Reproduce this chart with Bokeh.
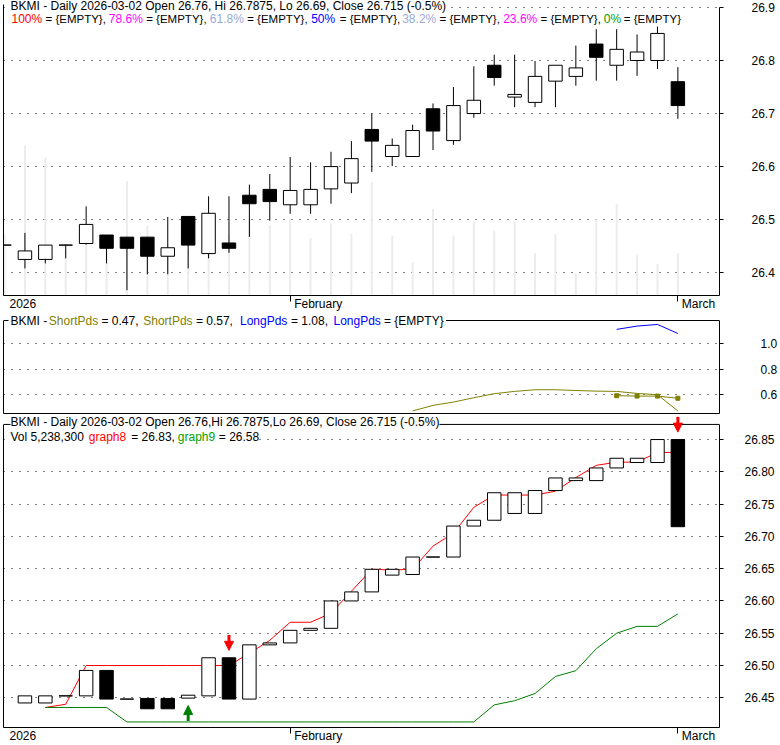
import math
from bokeh.plotting import figure
from bokeh.models import (Range1d, LinearAxis, FixedTicker, Label, ColumnDataSource, Span,
                          BoxAnnotation, Arrow, NormalHead, PrintfTickFormatter,
                          CustomJSTickFormatter)
from bokeh.layouts import column
from bokeh.embed import file_html
from bokeh.resources import INLINE

nan = float("nan")

# ---------------- data ----------------
dates = ["2026-01-12", "2026-01-13", "2026-01-14", "2026-01-15", "2026-01-16",
         "2026-01-20", "2026-01-21", "2026-01-22", "2026-01-23", "2026-01-26",
         "2026-01-27", "2026-01-28", "2026-01-29", "2026-01-30",
         "2026-02-02", "2026-02-03", "2026-02-04", "2026-02-05", "2026-02-06",
         "2026-02-09", "2026-02-10", "2026-02-11", "2026-02-12", "2026-02-13",
         "2026-02-17", "2026-02-18", "2026-02-19", "2026-02-20", "2026-02-23",
         "2026-02-24", "2026-02-25", "2026-02-26", "2026-02-27", "2026-03-02"]

open_ = [26.452, 26.425, 26.425, 26.452, 26.455, 26.471, 26.467, 26.467, 26.431, 26.506,
         26.436, 26.456, 26.546, 26.557, 26.528, 26.528, 26.558, 26.569, 26.670, 26.619,
         26.619, 26.709, 26.649, 26.700, 26.791, 26.731, 26.721, 26.761, 26.770, 26.831,
         26.791, 26.800, 26.800, 26.76]
high = [26.452, 26.475, 26.452, 26.453, 26.525, 26.471, 26.467, 26.467, 26.505, 26.506,
        26.544, 26.544, 26.566, 26.586, 26.618, 26.608, 26.628, 26.648, 26.700, 26.653,
        26.679, 26.719, 26.750, 26.789, 26.811, 26.811, 26.799, 26.791, 26.828, 26.859,
        26.859, 26.849, 26.864, 26.7875]
low = [26.452, 26.408, 26.4175, 26.427, 26.453, 26.4175, 26.367, 26.397, 26.397, 26.408,
       26.427, 26.4375, 26.4675, 26.498, 26.511, 26.511, 26.530, 26.550, 26.590, 26.601,
       26.619, 26.631, 26.641, 26.692, 26.7525, 26.712, 26.712, 26.712, 26.7525, 26.762,
       26.762, 26.771, 26.784, 26.69]
close = [26.452, 26.441, 26.452, 26.452, 26.491, 26.446, 26.446, 26.431, 26.447, 26.452,
         26.512, 26.446, 26.530, 26.534, 26.555, 26.557, 26.600, 26.615, 26.648, 26.640,
         26.668, 26.667, 26.715, 26.725, 26.768, 26.736, 26.770, 26.791, 26.786, 26.806,
         26.821, 26.816, 26.851, 26.715]
volume_m = [7.5, 18.5, 17.1, 5.6, 8.7, 6.2, 14.1, 8.6, 6.2, 5.6,
            6.9, 7.5, 9.4, 8.7, 9.4, 7.1, 8.9, 7.6, 14.0, 7.4,
            4.1, 10.7, 7.4, 9.1, 8.0, 9.1, 5.2, 7.6, 2.7, 9.4,
            11.3, 5.0, 3.9, 5.2383]

# lower panel bodies
p3_low = [nan, 26.442, 26.442, 26.453, 26.453, 26.448, 26.448, 26.433, 26.433, 26.4495,
          26.453, 26.448, 26.448, 26.532, 26.535, 26.5545, 26.5576, 26.600, 26.614, 26.640,
          26.641, 26.668, 26.668, 26.716, 26.725, 26.7355, 26.7355, 26.771, 26.7864, 26.7864,
          26.806, 26.8144, 26.8144, 26.715]
p3_high = [nan, 26.453, 26.453, 26.453, 26.4924, 26.4924, 26.448, 26.449, 26.449, 26.454,
           26.512, 26.512, 26.532, 26.535, 26.5545, 26.5576, 26.600, 26.614, 26.649, 26.649,
           26.668, 26.668, 26.716, 26.725, 26.7676, 26.7676, 26.771, 26.7905, 26.7905, 26.806,
           26.821, 26.821, 26.85, 26.85]
p3_up = [None, True, True, True, True, False, False, False, False, True,
         True, False, True, True, True, True, True, True, True, True,
         True, False, True, True, True, True, True, True, True, True,
         True, True, True, False]
graph8 = [nan, nan, 26.435, 26.440, 26.50, 26.50, 26.50, 26.50, 26.50, 26.50,
          26.50, 26.50, 26.519, 26.539, 26.567, 26.567, 26.581, 26.615, 26.649, 26.648,
          26.649, 26.685, 26.705, 26.745, 26.764, 26.764, 26.764, 26.770, 26.791, 26.810,
          26.815, 26.815, 26.830, 26.83]
graph9 = [nan, nan, 26.435, 26.435, 26.435, 26.435, 26.4126, 26.4126, 26.4126, 26.4126,
          26.4126, 26.4126, 26.4126, 26.4126, 26.4126, 26.4126, 26.4126, 26.4126, 26.4126, 26.4126,
          26.4126, 26.4126, 26.4126, 26.4126, 26.439, 26.4455, 26.4566, 26.483, 26.492, 26.526,
          26.550, 26.5606, 26.5606, 26.58]
sell_signals = [11, 33]
buy_signals = [9]

# middle panel
short_pds_a = [nan] * 20 + [0.470, 0.514, 0.540, 0.574, 0.606, 0.624, 0.637, 0.637, 0.631, 0.626,
                            0.624, 0.608, 0.598, 0.47]
short_pds_b = [nan] * 30 + [0.590, 0.587, 0.587, 0.57]
long_pds_a = [nan] * 30 + [1.112, 1.138, 1.151, 1.08]

price_ticks = [26.4, 26.5, 26.6, 26.7, 26.8, 26.9]
pds_ticks = [0.6, 0.8, 1.0]
p3_ticks = [26.45, 26.50, 26.55, 26.60, 26.65, 26.70, 26.75, 26.80, 26.85]
fib_levels = ["100%", "78.6%", "61.8%", "50%", "38.2%", "23.6%", "0%"]
month_names = {"01": "January", "02": "February", "03": "March"}

# ---------------- layout ----------------
FONT = "Liberation Sans"
FS = "12px"
W = 780
BL, BR = 3, 60
FRAME_W = W - BL - BR
X0, X1 = -0.05, 35.04
PPX = FRAME_W / (X1 - X0)
idx = list(range(len(dates)))
x_range = Range1d(X0, X1)
month_ticks = [i for i in range(1, len(dates)) if dates[i][5:7] != dates[i - 1][5:7]]

P1_EXT, P1_BOX, P1_BOT = 7, 291, 15
P2_EXT, P2_BOX, P2_BOT = 7, 93, 3
P3_EXT, P3_BOX, P3_BOT = 8, 306, 15
Y1 = (26.357, 26.9)
Y2 = (0.450, 1.182)
Y3 = (26.404, 26.8734)

ARIAL = {"0": 556, "1": 556, "2": 556, "3": 556, "4": 556, "5": 556, "6": 556, "7": 556,
         "8": 556, "9": 556, "F": 611, "J": 500, "M": 833, "a": 556, "b": 556, "c": 500,
         "e": 556, "h": 556, "n": 556, "r": 333, "u": 556, "y": 500}


def text_w(s):
    return sum(ARIAL.get(ch, 556) for ch in s) * 12 / 1000


def add_text(p, x, y, text, color="black", bg=None, size=FS):
    p.add_layout(Label(x=x, y=y, x_units="screen", y_units="screen", text=text,
                       text_color=color, text_font=FONT, text_font_size=size,
                       text_baseline="middle", text_align="left",
                       background_fill_color=bg))


def add_backdrop(p, left, right, yc, half=4):
    p.add_layout(BoxAnnotation(left=left, right=right, bottom=yc - half, top=yc + half,
                               left_units="screen", right_units="screen",
                               bottom_units="screen", top_units="screen",
                               fill_color="white", fill_alpha=1.0, line_color=None))


def make_panel(ext, box, bot, yr, ticks, fmt, standoff, top_line=True, x_ticks=True,
               left_extra=0):
    ppu = box / (yr[1] - yr[0])
    p = figure(width=W, height=ext + box + bot, x_range=x_range,
               y_range=Range1d(yr[0], yr[1] + ext / ppu), y_axis_location="right",
               x_axis_location="below", output_backend="svg", toolbar_location=None,
               tools="", min_border_left=BL, min_border_right=BR, min_border_top=0,
               min_border_bottom=bot)
    p.title = None
    p.background_fill_color = "white"
    p.border_fill_color = "white"
    p.outline_line_color = None
    p.xgrid.visible = False
    # right price axis (also the right border)
    ax = p.yaxis[0]
    t = FixedTicker(ticks=ticks)
    ax.ticker = t
    ax.bounds = (yr[0], yr[1])
    ax.formatter = PrintfTickFormatter(format=fmt)
    ax.major_tick_out = 4
    ax.major_tick_in = 0
    ax.minor_tick_out = 0
    ax.minor_tick_in = 0
    ax.major_label_standoff = standoff
    ax.major_label_text_font = FONT
    ax.major_label_text_font_size = FS
    ax.major_label_text_color = "black"
    ax.axis_line_color = "black"
    ax.major_tick_line_color = "black"
    p.ygrid.ticker = t
    p.ygrid.grid_line_color = "black"
    p.ygrid.grid_line_dash = "1 7"
    p.ygrid.grid_line_width = 1
    # left border
    p.add_layout(LinearAxis(ticker=FixedTicker(ticks=[]), bounds=(yr[0], yr[1] + left_extra / ppu),
                            major_tick_out=0, major_tick_in=0, minor_tick_out=0,
                            minor_tick_in=0, major_label_text_color=None,
                            axis_line_color="black"), "left")
    # bottom border with month ticks
    xa = p.xaxis[0]
    xa.ticker = FixedTicker(ticks=month_ticks if x_ticks else [])
    xa.major_label_text_color = None
    xa.major_label_standoff = 0
    xa.major_tick_out = 6
    xa.major_tick_in = 0
    xa.minor_tick_out = 0
    xa.minor_tick_in = 0
    xa.axis_line_color = "black"
    xa.major_tick_line_color = "black"
    if x_ticks:
        names = [dates[0][:4]] + [month_names[dates[i][5:7]] for i in month_ticks]
        anchors = [X0 + 6 / PPX] + [i + 4 / PPX for i in month_ticks]
        centers = [a + text_w(n) / 2 / PPX for a, n in zip(anchors, names)]
        lab = LinearAxis(ticker=FixedTicker(ticks=centers),
                         formatter=CustomJSTickFormatter(args=dict(names=names),
                                                         code="return names[index]"),
                         major_tick_out=0, major_tick_in=0, minor_tick_out=0, minor_tick_in=0,
                         major_label_standoff=-5, axis_line_color=None,
                         major_label_text_font=FONT, major_label_text_font_size=FS,
                         major_label_text_color="black")
        p.add_layout(lab, "below")
    if top_line:
        p.add_layout(Span(location=yr[1], dimension="width", line_color="black",
                          line_width=1))
    return p, ppu


# ---------------- panel 1: candles ----------------
p1, ppu1 = make_panel(P1_EXT, P1_BOX, P1_BOT, Y1, price_ticks, "%.1f", 28,
                      top_line=False, left_extra=3)
p1.extra_y_ranges = {"vol": Range1d(0, 36.4)}

src1 = ColumnDataSource(dict(
    x=idx, o=open_, h=high, l=low, c=close, v=volume_m,
    top=[max(a, b) for a, b in zip(open_, close)],
    bot=[min(a, b) for a, b in zip(open_, close)],
    fill=["white" if c >= o else "black" for o, c in zip(open_, close)],
))
p1.segment(x0="x", y0=0, x1="x", y1="v", source=src1, y_range_name="vol",
           line_color="#ececec", line_width=2)
p1.segment(x0="x", y0="l", x1="x", y1="h", source=src1, line_color="black", line_width=1)
p1.vbar(x="x", width=0.66, top="top", bottom="bot", source=src1, fill_color="fill",
        line_color="black", line_width=1)

pct = (close[-1] - close[-2]) / close[-2] * 100
title1 = (f"BKMI - Daily {dates[-1]} Open {open_[-1]}, Hi {high[-1]}, Lo {low[-1]}, "
          f"Close {close[-1]} ({pct:.1f}%)")
add_text(p1, 7, P1_BOX - 1, title1, bg="white")
fib_colors = ["#ff0000", "#ff00ff", "#9aaad4", "#0000ff", "#9aaad4", "#ff00ff", "#00a000"]
fib_x = [8, 105.3, 206.3, 307.7, 398.7, 499.7, 600.3]
eq_x = [42, 142.7, 243.7, 336.3, 436, 537, 620.3]
for k, lev in enumerate(fib_levels):
    add_text(p1, fib_x[k], P1_BOX - 14, lev, color=fib_colors[k])
    add_text(p1, eq_x[k], P1_BOX - 14,
             "= {EMPTY}," if k < len(fib_levels) - 1 else "= {EMPTY}", size="11.5px")

# ---------------- panel 2: ShortPds / LongPds ----------------
p2, ppu2 = make_panel(P2_EXT, P2_BOX, P2_BOT, Y2, pds_ticks, "%.1f", 37, x_ticks=False)
src2 = ColumnDataSource(dict(x=idx, a=short_pds_a, b=short_pds_b, lp=long_pds_a))
p2.line("x", "a", source=src2, line_color="#808000", line_width=1)
p2.line("x", "b", source=src2, line_color="#808000", line_width=1)
p2.scatter("x", "b", source=src2, marker="square", size=4, fill_color="#808000",
           line_color="#808000")
p2.line("x", "lp", source=src2, line_color="#0000ff", line_width=1)

last_a = [v for v in short_pds_a if not math.isnan(v)][-1]
last_b = [v for v in short_pds_b if not math.isnan(v)][-1]
last_l = [v for v in long_pds_a if not math.isnan(v)][-1]
segs2 = [(7, "BKMI -", "black"),
         (45.3, "ShortPds", "#808000"), (98, f"= {last_a:.2f},", "black"),
         (139.7, "ShortPds", "#808000"), (192.4, f"= {last_b:.2f},", "black"),
         (236.5, "LongPds", "#0000ff"), (287.5, f"= {last_l:.2f},", "black"),
         (330, "LongPds", "#0000ff"), (380.5, "= {EMPTY}", "black")]
add_backdrop(p2, 5, segs2[-1][0] + 62, P2_BOX - 0.5, half=5)
for x, t, c in segs2:
    add_text(p2, x, P2_BOX - 0.5, t, color=c, bg="white")

# ---------------- panel 3: close bodies + bands ----------------
p3, ppu3 = make_panel(P3_EXT, P3_BOX, P3_BOT, Y3, p3_ticks, "%.2f", 21)
src3 = ColumnDataSource(dict(
    x=idx, lo=p3_low, hi=p3_high, g8=graph8, g9=graph9,
    fill=["white" if u else "black" for u in p3_up],
))
p3.line("x", "g8", source=src3, line_color="#ff0000", line_width=1)
p3.line("x", "g9", source=src3, line_color="#008000", line_width=1)
p3.vbar(x="x", width=0.66, top="hi", bottom="lo", source=src3, fill_color="fill",
        line_color="black", line_width=1)

gap, head_len, shaft_len = 7.5 / ppu3, 8.5 / ppu3, 7 / ppu3
sell_src = ColumnDataSource(dict(
    x=sell_signals,
    tip=[p3_high[i] + gap for i in sell_signals],
    base=[p3_high[i] + gap + head_len for i in sell_signals],
    tail=[p3_high[i] + gap + head_len + shaft_len for i in sell_signals],
))
buy_src = ColumnDataSource(dict(
    x=buy_signals,
    tip=[p3_low[i] - gap for i in buy_signals],
    base=[p3_low[i] - gap - head_len for i in buy_signals],
    tail=[p3_low[i] - gap - head_len - shaft_len for i in buy_signals],
))
for s, col in ((sell_src, "#ff0000"), (buy_src, "#008000")):
    p3.add_layout(Arrow(end=None, x_start="x", y_start="tail", x_end="x", y_end="base",
                        line_color=col, line_width=3, source=s))
    p3.add_layout(Arrow(end=NormalHead(size=9, fill_color=col, line_color=col, line_width=1),
                        x_start="x", y_start="base", x_end="x", y_end="tip",
                        line_alpha=0, source=s))

title3 = (f"BKMI - Daily {dates[-1]} Open {open_[-1]},Hi {high[-1]},Lo {low[-1]}, "
          f"Close {close[-1]} ({pct:.1f}%)")
add_text(p3, 7, P3_BOX - 0.5, title3, bg="white")
segs3 = [(7, f"Vol {round(volume_m[-1] * 1e6):,}", "black"),
         (85.3, "graph8", "#ff0000"), (127.7, f"= {graph8[-1]:.2f},", "black"),
         (174.3, "graph9", "#00a000"), (215.3, f"= {graph9[-1]:.2f}", "black")]
add_backdrop(p3, 5, segs3[-1][0] + 40, P3_BOX - 15, half=5)
for x, t, c in segs3:
    add_text(p3, x, P3_BOX - 15, t, color=c, bg="white")

layout = column(p1, p2, p3, spacing=0)
open("out.html", "w").write(file_html(layout, INLINE))
